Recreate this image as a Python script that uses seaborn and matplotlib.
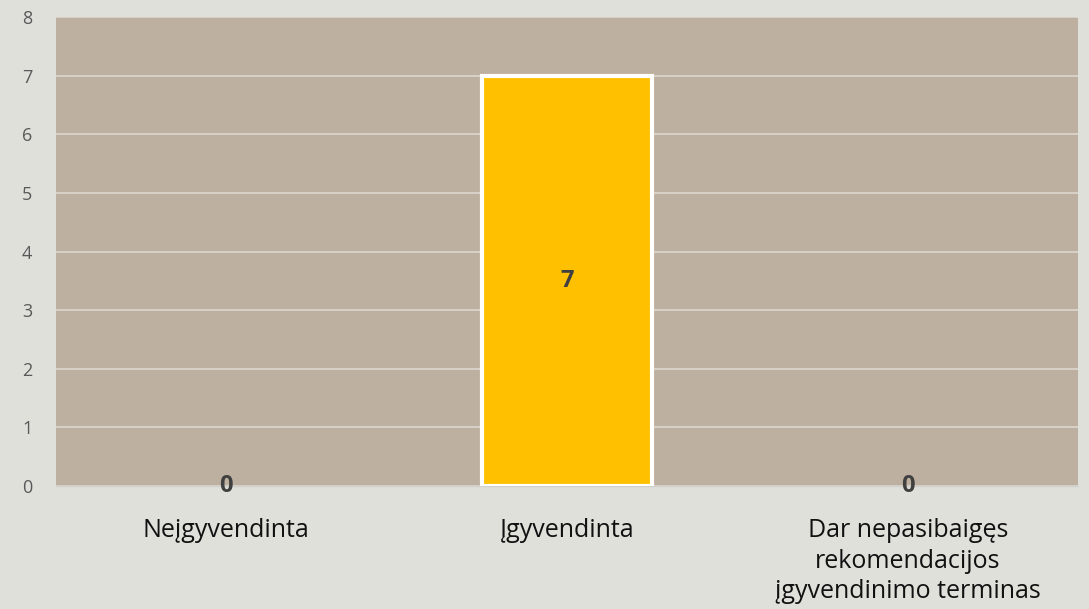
import matplotlib
matplotlib.use("Agg")
import matplotlib.pyplot as plt
import seaborn as sns
import pandas as pd
from matplotlib.ticker import FixedLocator

# --- duomenys ---
categories = ["Neįgyvendinta", "Įgyvendinta",
              "Dar nepasibaigęs\nrekomendacijos\nįgyvendinimo terminas"]
values = [0, 7, 0]
bar_colors = ["#FFC000", "#FFC000", "#FFC000"]

df = pd.DataFrame({"Būklė": categories, "Kiekis": values})

sns.set_theme(style="white")
plt.rcParams['font.family'] = ['Open Sans', 'DejaVu Sans']

fig = plt.figure(figsize=(10.89, 6.09), dpi=100, facecolor="#E0E0DB")
ax = fig.add_axes([0.0514, 0.202, 0.9386, 0.770])
ax.set_facecolor("#BEB0A0")

sns.barplot(data=df, x="Būklė", y="Kiekis", hue="Būklė", palette=bar_colors,
            legend=False, width=0.5, edgecolor="white", linewidth=3,
            saturation=1, ax=ax, zorder=3)

# nulinio aukščio stulpeliams rėmelio nereikia
for p in ax.patches:
    if p.get_height() == 0:
        p.set_linewidth(0)

ax.set_ylim(0, 8)
ax.set_xlim(-0.5, len(categories) - 0.5)
ax.set_yticks(range(0, 9))
ax.grid(axis="y", color="#D9D4CC", linewidth=1.3, zorder=0)
ax.set_axisbelow(True)

for s in ["top", "right", "left"]:
    ax.spines[s].set_visible(False)
ax.spines["bottom"].set_color("#D0D0CC")
ax.spines["bottom"].set_linewidth(1)

ax.set_xlabel("")
ax.set_ylabel("")
ax.tick_params(axis="y", length=0, labelsize=13, labelcolor="#595959", pad=17)
ax.tick_params(axis="x", which="major", length=0, labelsize=18,
               labelcolor="#111111", pad=23)
for lbl in ax.get_xticklabels():
    lbl.set_linespacing(1.3)
ax.xaxis.set_minor_locator(FixedLocator([-0.5, 0.5, 1.5, 2.5]))
ax.tick_params(axis="x", which="minor", length=6, color="#D0D0CC", width=1)

for i, v in enumerate(values):
    ax.text(i, v / 2, str(v), ha="center", va="center", fontsize=17,
            fontweight="bold", color="#404040", zorder=5)

fig.savefig("out.png", dpi=100, facecolor=fig.get_facecolor())
